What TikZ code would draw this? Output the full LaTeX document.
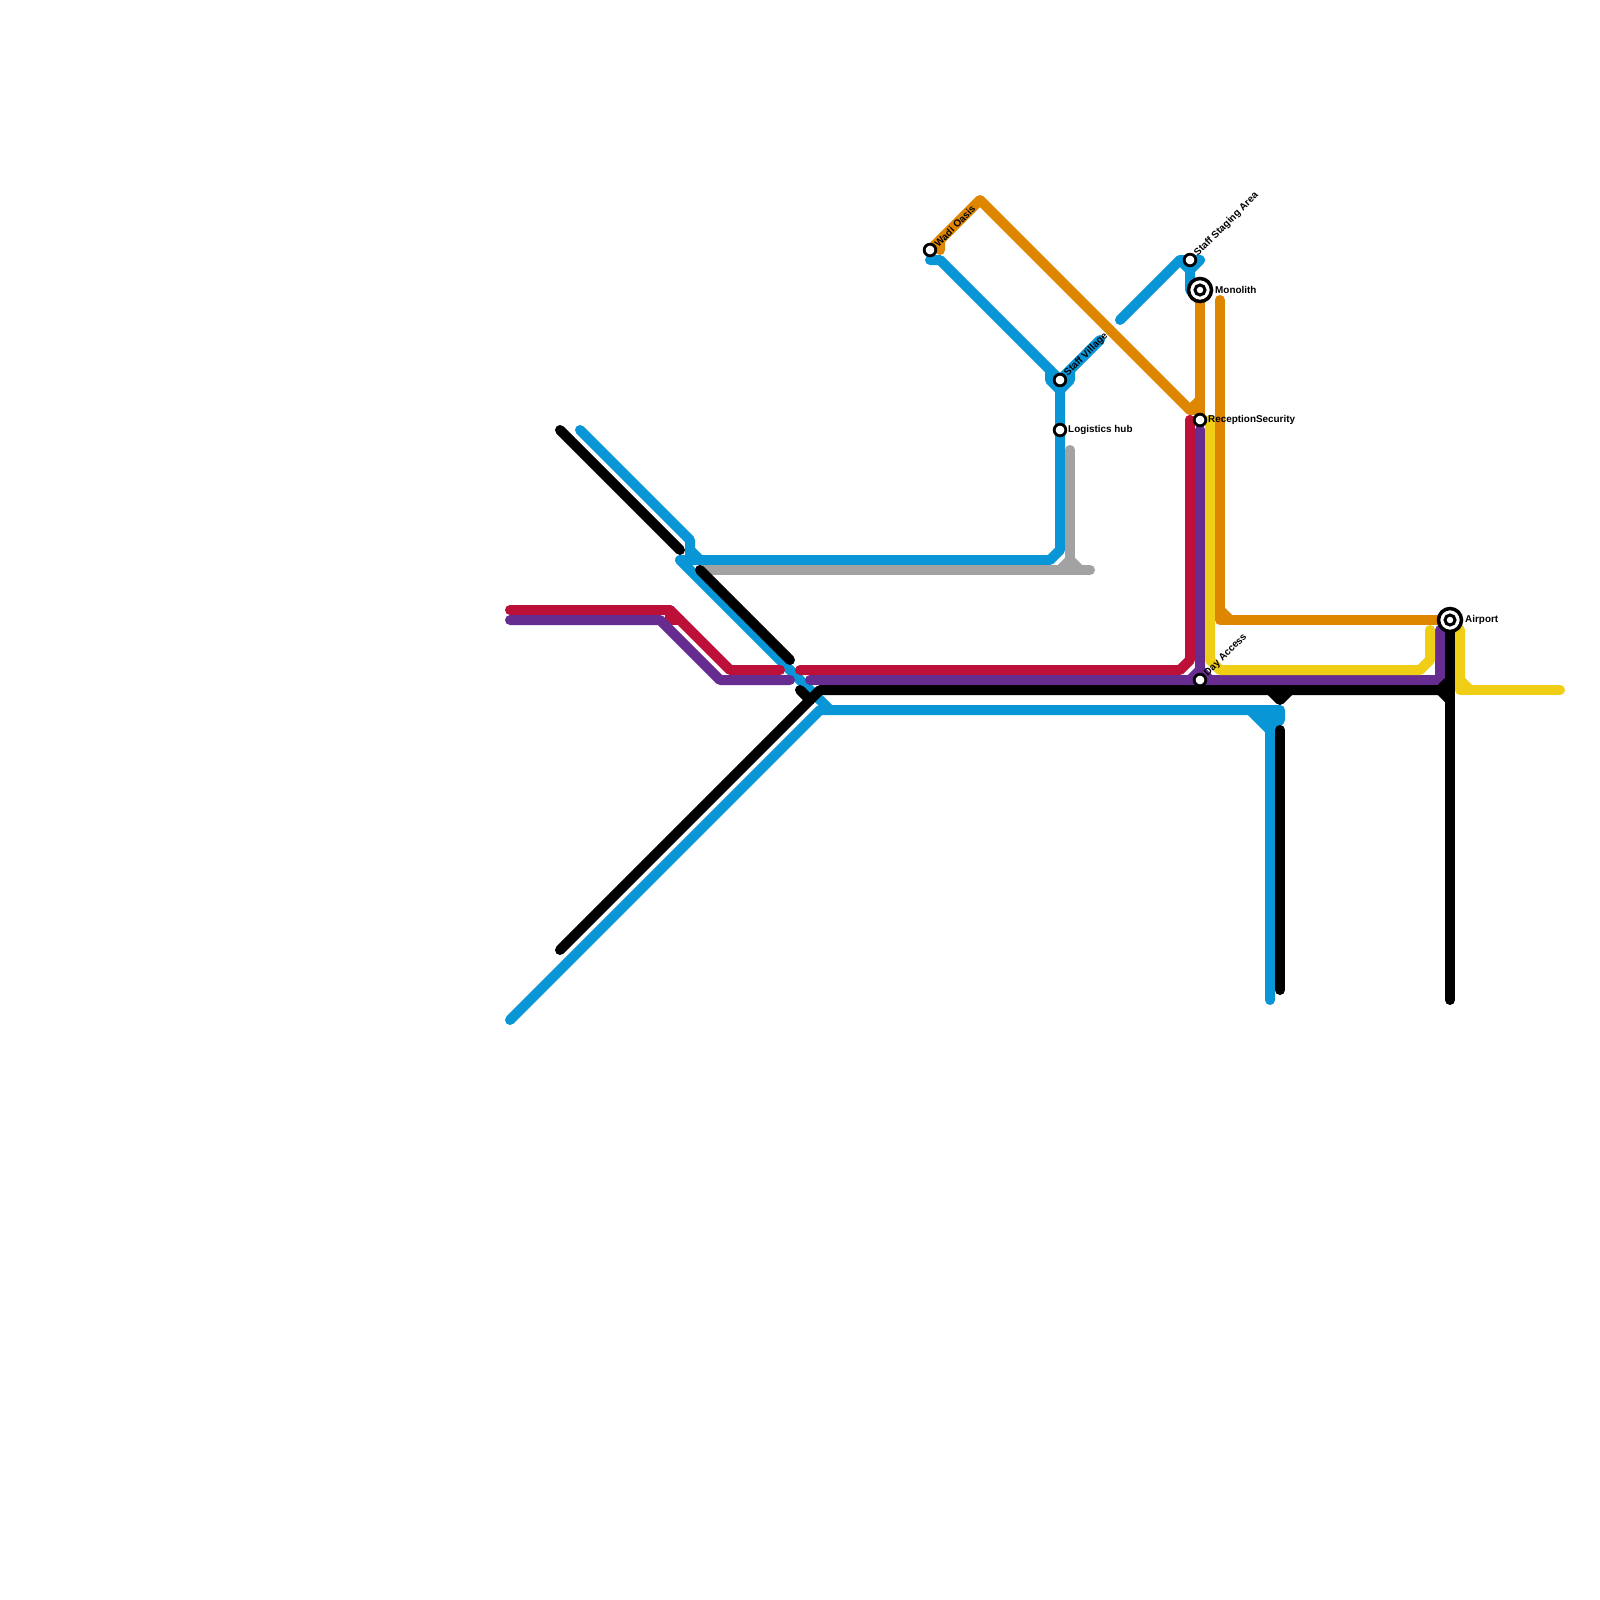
\documentclass[tikz,border=0pt]{standalone}
\usepackage{fontspec}
\setmainfont{Liberation Sans}
\definecolor{lineblue}{HTML}{0896D7}
\definecolor{linered}{HTML}{BD1038}
\definecolor{linepurple}{HTML}{662C90}
\definecolor{lineyellow}{HTML}{F0CE15}
\definecolor{lineorange}{HTML}{DF8600}
\definecolor{linegray}{HTML}{A2A2A2}
\tikzstyle{metroline}=[line width=10pt,line cap=round,line join=round]
\tikzstyle{stopmark}=[circle,draw=black,fill=white,line width=2.8pt,inner sep=0pt,minimum size=11.6pt]
\tikzstyle{hubmark}=[circle,draw=black,fill=white,line width=3.5pt,inner sep=0pt,minimum size=23pt]
\tikzstyle{hubdot}=[circle,draw=black,fill=white,line width=3pt,inner sep=0pt,minimum size=10pt]
\tikzstyle{stoplabel}=[inner sep=0pt,anchor=west,font=\bfseries\fontsize{9.9}{12}\selectfont]
\tikzstyle{slantlabel}=[stoplabel,rotate=45]

\begin{document}
\begin{tikzpicture}[x=1pt,y=-1pt]
	\fill[white] (0,0) rectangle (1600,1600);
	\useasboundingbox (0,0) rectangle (1600,1600);
	%stops
	\coordinate (wadi) at (930,250);
	\coordinate (staging) at (1190,260);
	\coordinate (monolith) at (1200,290);
	\coordinate (village) at (1060,380);
	\coordinate (logistics) at (1060,430);
	\coordinate (reception) at (1200,420);
	\coordinate (dayaccess) at (1200,680);
	\coordinate (airport) at (1450,620);
	%blue
	\draw[metroline,lineblue] (930,260) -- (940,260) -- (village) -- (1060,550) -- (1050,560) -- (680,560) -- (830,710) -- (1280,710) -- (1280,720) -- (1270,730) -- (1270,1000);
	\draw[metroline,lineblue] (1100,340) -- (village);
	\draw[metroline,lineblue] (1050,370) -- (1050,380) -- (1060,390) -- (1070,380) -- (1070,370);
	\draw[metroline,lineblue] (1120,320) -- (1180,260) -- (1200,260) -- (1190,270) -- (1190,290);
	\draw[metroline,lineblue] (1180,260) -- (1190,270);
	\draw[metroline,lineblue] (580,430) -- (690,540) -- (690,560);
	\draw[metroline,lineblue] (690,550) -- (700,560);
	\draw[metroline,lineblue] (510,1020) -- (820,710) -- (830,710);
	\draw[metroline,lineblue] (1250,710) -- (1270,730) -- (1270,710);
	\draw[metroline,lineblue] (1260,710) -- (1270,720);
	%gray
	\draw[metroline,linegray] (1070,450) -- (1070,570);
	\draw[metroline,linegray] (1060,570) -- (1070,560) -- (1080,570);
	\draw[metroline,linegray] (700,570) -- (1090,570);
	%red
	\draw[metroline,linered] (510,610) -- (670,610) -- (730,670) -- (780,670);
	\draw[metroline,linered] (670,610) -- (670,620) -- (680,620);
	\draw[metroline,linered] (800,670) -- (1180,670) -- (1190,660) -- (1190,420);
	%purple
	\draw[metroline,linepurple] (510,620) -- (660,620) -- (720,680) -- (790,680);
	\draw[metroline,linepurple] (810,680) -- (1440,680) -- (1440,630);
	\draw[metroline,linepurple] (1190,680) -- (1200,670) -- (1200,430);
	\draw[metroline,linepurple] (1200,670) -- (1210,680);
	%yellow
	\draw[metroline,lineyellow] (1210,420) -- (1210,660) -- (1220,670) -- (1420,670) -- (1430,660) -- (1430,630);
	\draw[metroline,lineyellow] (1460,630) -- (1460,690) -- (1560,690);
	\draw[metroline,lineyellow] (1460,680) -- (1470,690);
	%orange
	\draw[metroline,lineorange] (monolith) -- (reception);
	\draw[metroline,lineorange] (1200,400) -- (1190,410) -- (980,200) -- (940,240) -- (940,250);
	\draw[metroline,lineorange] (1190,410) -- (1200,410);
	\draw[metroline,lineorange] (wadi) -- (940,240);
	\draw[metroline,lineorange] (1220,300) -- (1220,620) -- (airport);
	\draw[metroline,lineorange] (1220,610) -- (1230,620);
	%red and purple tops
	\draw[metroline,linered] (1190,440) -- (1190,420);
	\draw[metroline,linepurple] (1200,450) -- (1200,430);
	\draw[metroline,lineyellow] (1210,440) -- (1210,420);
	%black
	\draw[metroline,black] (560,430) -- (680,550);
	\draw[metroline,black] (700,570) -- (790,660);
	\draw[metroline,black] (800,690) -- (810,700);
	\draw[metroline,black] (560,950) -- (820,690) -- (1440,690) -- (1450,680);
	\draw[metroline,black] (1440,690) -- (1450,700);
	\draw[metroline,black] (1270,690) -- (1280,700) -- (1290,690);
	\draw[metroline,black] (1280,730) -- (1280,990);
	\draw[metroline,black] (airport) -- (1450,1000);
	%stop marks
	\node[stopmark] (wadi mark) at (wadi) {};
	\node[stopmark] (staging mark) at (staging) {};
	\node[stopmark] (village mark) at (village) {};
	\node[stopmark] (logistics mark) at (logistics) {};
	\node[stopmark] (reception mark) at (reception) {};
	\node[stopmark] (dayaccess mark) at (dayaccess) {};
	\node[hubmark] (monolith mark) at (monolith) {};
	\node[hubdot] (monolith dot) at (monolith) {};
	\node[hubmark] (airport mark) at (airport) {};
	\node[hubdot] (airport dot) at (airport) {};
	%labels
	\node[slantlabel] (wadi label) at (936,245) {Wadi Oasis};
	\node[slantlabel] (staging label) at (1196,255) {Staff Staging Area};
	\node[slantlabel] (village label) at (1066,375) {Staff Village};
	\node[slantlabel] (dayaccess label) at (1206,675) {Day Access};
	\node[stoplabel] (monolith label) at (1215,289.5) {Monolith};
	\node[stoplabel] (logistics label) at (1068,429.5) {Logistics hub};
	\node[stoplabel] (reception label) at (1208,419.5) {ReceptionSecurity};
	\node[stoplabel] (airport label) at (1465,619.5) {Airport};
\end{tikzpicture}
\end{document}
